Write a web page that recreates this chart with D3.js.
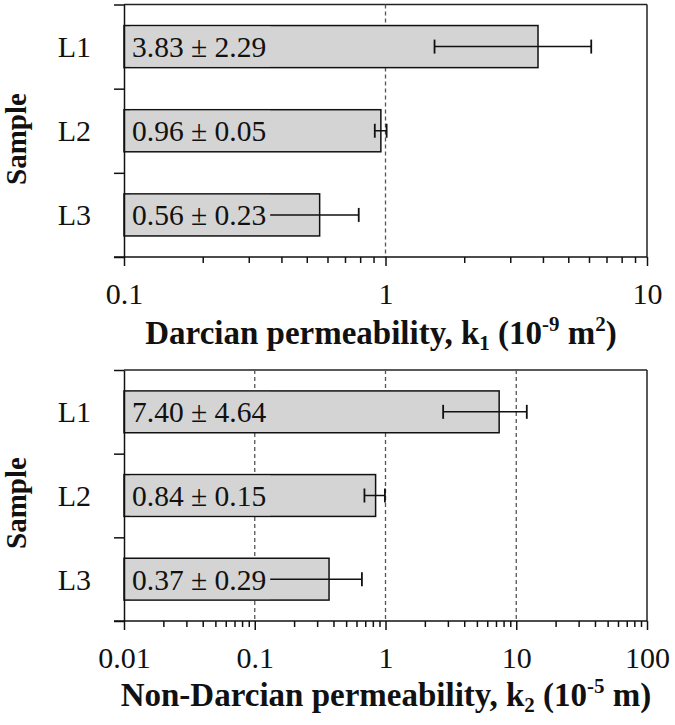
<!DOCTYPE html>
<html><head><meta charset="utf-8">
<script src="https://cdn.jsdelivr.net/npm/d3@7"></script>
<style>body{margin:0;background:#fff}svg{display:block}</style>
</head><body>
<script>
const categories = ["L1","L2","L3"];
const k1Values = [3.83, 0.96, 0.56];
const k1Errors = [2.29, 0.05, 0.23];
const k2Values = [7.40, 0.84, 0.37];
const k2Errors = [4.64, 0.15, 0.29];
const k1Ticks = [0.1, 1, 10];
const k2Ticks = [0.01, 0.1, 1, 10, 100];

const W = 675, H = 725;
const svg = d3.select("body").append("svg").attr("width", W).attr("height", H);
const FONT = "'Liberation Serif','Times New Roman',serif";

function panel(cfg) {
  const {top, bottom, domain, values, errors, ticks, grid, sampleY, titleY, title} = cfg;
  const left = 124, right = 647;
  const x = d3.scaleLog().domain(domain).range([left, right]);
  const y = d3.scaleBand().domain(categories).range([top, bottom]).paddingInner(0.5).paddingOuter(0.25);
  const yb = d3.scaleLinear().domain([0, categories.length]).range([top, bottom]);
  const g = svg.append("g");

  g.append("line").attr("x1", left).attr("x2", right).attr("y1", top).attr("y2", top).attr("stroke", "#222").attr("stroke-width", 1.5);
  g.append("line").attr("x1", right).attr("x2", right).attr("y1", top).attr("y2", bottom).attr("stroke", "#222").attr("stroke-width", 1.5);

  g.selectAll(".grid").data(grid).enter().append("line")
    .attr("x1", d => x(d)).attr("x2", d => x(d)).attr("y1", top).attr("y2", bottom)
    .attr("stroke", "#555").attr("stroke-width", 1.3).attr("stroke-dasharray", "4,3");

  g.selectAll(".bar").data(categories).enter().append("rect")
    .attr("x", x(domain[0])).attr("y", d => y(d))
    .attr("width", (d, i) => x(values[i]) - x(domain[0]))
    .attr("height", y.bandwidth())
    .attr("fill", "#d4d4d4").attr("stroke", "#111").attr("stroke-width", 1.5);

  const cap = 7;
  categories.forEach((c, i) => {
    const cy = y(c) + y.bandwidth() / 2;
    const lo = x(values[i] - errors[i]), hi = x(values[i] + errors[i]);
    g.append("line").attr("x1", lo).attr("x2", hi).attr("y1", cy).attr("y2", cy).attr("stroke", "#111").attr("stroke-width", 1.5);
    [lo, hi].forEach(px => g.append("line").attr("x1", px).attr("x2", px).attr("y1", cy - cap).attr("y2", cy + cap).attr("stroke", "#111").attr("stroke-width", 1.8));
  });

  categories.forEach((c, i) => {
    const cy = y(c) + y.bandwidth() / 2;
    const t = g.append("text").attr("x", 132).attr("y", cy + 10.5)
      .attr("font-family", FONT).attr("font-size", 29.5).attr("fill", "#111")
      .text(values[i].toFixed(2) + " \u00b1 " + errors[i].toFixed(2));
    const bb = t.node().getBBox();
    g.insert("rect", () => t.node())
      .attr("x", bb.x - 2).attr("y", y(c) + 1).attr("width", bb.width + 6).attr("height", y.bandwidth() - 2)
      .attr("fill", "#d4d4d4");
  });

  const ya = g.append("g").attr("transform", `translate(${left},0)`)
    .call(d3.axisLeft(yb).tickValues(d3.range(categories.length + 1)).tickFormat("").tickSize(10).tickSizeOuter(0));
  ya.selectAll("path,line").attr("stroke", "#111").attr("stroke-width", 1.5);

  g.selectAll(".cat").data(categories).enter().append("text")
    .attr("x", 91).attr("y", d => y(d) + y.bandwidth() / 2 + 10.5)
    .attr("text-anchor", "end").attr("font-family", FONT).attr("font-size", 30).attr("fill", "#111")
    .text(d => d);

  const decades = d3.range(Math.log10(domain[0]), Math.log10(domain[1]));
  const minor = [];
  decades.forEach(e => { for (let m = 2; m <= 9; m++) minor.push(m * Math.pow(10, e)); });
  const xm = g.append("g").attr("transform", `translate(0,${bottom})`)
    .call(d3.axisBottom(x).tickValues(minor).tickFormat("").tickSize(6).tickSizeOuter(0));
  xm.selectAll("path,line").attr("stroke", "#111").attr("stroke-width", 1.5);
  xm.select("path").remove();
  const xa = g.append("g").attr("transform", `translate(0,${bottom})`)
    .call(d3.axisBottom(x).tickValues(ticks).tickFormat(d => String(d)).tickSize(9).tickPadding(17).tickSizeOuter(0));
  xa.selectAll("line").attr("stroke", "#111").attr("stroke-width", 1.5);
  xa.select("path").remove();
  g.append("line").attr("x1", left - 10).attr("x2", right).attr("y1", bottom).attr("y2", bottom).attr("stroke", "#111").attr("stroke-width", 1.5);
  xa.selectAll("text").attr("font-family", FONT).attr("font-size", 30).attr("fill", "#111");

  g.append("text").attr("transform", `translate(26,${sampleY}) rotate(-90)`)
    .attr("text-anchor", "middle").attr("font-family", FONT).attr("font-weight", "bold").attr("font-size", 29).attr("fill", "#111")
    .text("Sample");

  const tt = g.append("text").attr("x", cfg.titleX).attr("y", titleY).attr("text-anchor", "middle")
    .attr("font-family", FONT).attr("font-weight", "bold").attr("font-size", 33).attr("fill", "#111");
  title.forEach(p => {
    const s = tt.append("tspan").text(p.t);
    if (p.sub) s.attr("font-size", 21).attr("dy", 6);
    if (p.sup) s.attr("font-size", 21).attr("dy", -13);
    if (p.reset) s.attr("dy", p.reset);
  });
}

panel({top: 4.5, bottom: 257, domain: [0.1, 10], values: k1Values, errors: k1Errors, ticks: k1Ticks, grid: [1],
  sampleY: 139, titleY: 344, titleX: 381,
  title: [{t: "Darcian permeability, k"}, {t: "1", sub: true}, {t: " (10", reset: -6}, {t: "-9", sup: true}, {t: " m", reset: 13}, {t: "2", sup: true}, {t: ")", reset: 13}]});

panel({top: 370, bottom: 621, domain: [0.01, 100], values: k2Values, errors: k2Errors, ticks: k2Ticks, grid: [0.1, 1, 10],
  sampleY: 503, titleY: 706, titleX: 386,
  title: [{t: "Non-Darcian permeability, k"}, {t: "2", sub: true}, {t: " (10", reset: -6}, {t: "-5", sup: true}, {t: " m)", reset: 13}]});
</script>
</body></html>
